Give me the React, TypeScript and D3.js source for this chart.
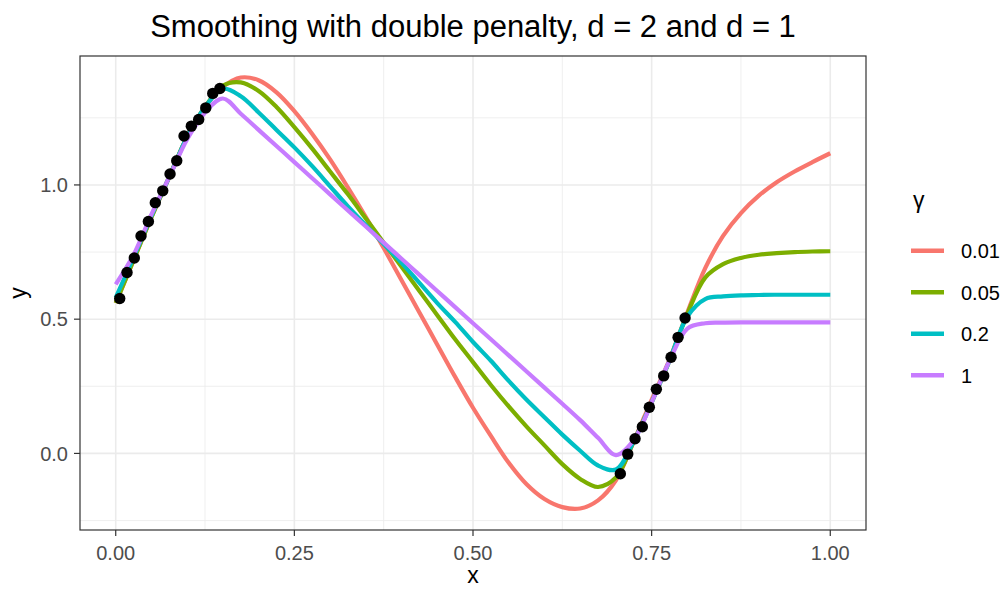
import React from "react";
import * as d3 from "d3";

// curve grid (shared by all four fits)
const xs = d3.range(0, 41).map((i) => i / 40);

const gammaLabels = ["0.01", "0.05", "0.2", "1"];
const gammaColors = ["#F8766D", "#7CAE00", "#00BFC4", "#C77CFF"];

const fit001 = [
  0.56, 0.72, 0.88, 1.03, 1.18, 1.29, 1.365, 1.4, 1.39, 1.345,
  1.275, 1.19, 1.095, 0.99, 0.88, 0.765, 0.645, 0.525, 0.405, 0.285,
  0.17, 0.065, -0.035, -0.115, -0.17, -0.2, -0.205, -0.175, -0.1, 0.045,
  0.2, 0.35, 0.525, 0.69, 0.81, 0.895, 0.96, 1.01, 1.05, 1.085, 1.118,
];
const fit005 = [
  0.56, 0.72, 0.88, 1.03, 1.18, 1.29, 1.37, 1.382, 1.35, 1.29,
  1.215, 1.135, 1.05, 0.965, 0.875, 0.785, 0.695, 0.605, 0.515, 0.425,
  0.34, 0.255, 0.175, 0.1, 0.03, -0.04, -0.095, -0.125, -0.09, 0.045,
  0.19, 0.345, 0.52, 0.655, 0.705, 0.728, 0.74, 0.746, 0.75, 0.752, 0.753,
];
const fit02 = [
  0.58, 0.73, 0.885, 1.03, 1.18, 1.29, 1.358, 1.33, 1.27, 1.205,
  1.14, 1.07, 0.995, 0.92, 0.85, 0.78, 0.71, 0.635, 0.56, 0.49,
  0.415, 0.345, 0.27, 0.2, 0.135, 0.07, 0.01, -0.045, -0.06, 0.045,
  0.19, 0.345, 0.51, 0.575, 0.585, 0.589, 0.59, 0.591, 0.591, 0.591, 0.591,
];
const fit1 = [
  0.63, 0.74, 0.89, 1.03, 1.17, 1.27, 1.322, 1.265, 1.205, 1.145,
  1.085, 1.025, 0.965, 0.905, 0.845, 0.785, 0.725, 0.665, 0.605, 0.545,
  0.485, 0.425, 0.365, 0.305, 0.245, 0.185, 0.124, 0.058, -0.006, 0.05,
  0.19, 0.345, 0.465, 0.485, 0.487, 0.488, 0.488, 0.488, 0.488, 0.488, 0.488,
];
const fits = [fit001, fit005, fit02, fit1];

// observed points
const obsX = [
  0.0056, 0.0158, 0.026, 0.0354, 0.0457, 0.0554, 0.0658, 0.076, 0.0854, 0.0956,
  0.1058, 0.1161, 0.126, 0.1358, 0.1457,
  0.7062, 0.7166, 0.7268, 0.737, 0.7468, 0.7566, 0.7669, 0.7772, 0.787, 0.7968,
];
const obsY = [
  0.577, 0.674, 0.728, 0.81, 0.864, 0.934, 0.978, 1.041, 1.09, 1.182,
  1.219, 1.244, 1.287, 1.341, 1.359,
  -0.0755, -0.0026, 0.0547, 0.0993, 0.1722, 0.2391, 0.2888, 0.358, 0.4323, 0.5045,
];

const xTicks = [0, 0.25, 0.5, 0.75, 1];
const xMinor = [0.125, 0.375, 0.625, 0.875];
const yTicks = [0, 0.5, 1];
const yMinor = [-0.25, 0.25, 0.75, 1.25];

const W = 1005;
const H = 589;
const panel = { left: 80, right: 866, top: 56, bottom: 530 };
const font = "'Liberation Sans', Arial, sans-serif";

export default function App() {
  const yMin = d3.min(fits.flat().concat(obsY)) as number;
  const yMax = d3.max(fits.flat().concat(obsY)) as number;
  const yPad = (yMax - yMin) * 0.05;

  const x = d3.scaleLinear().domain([-0.05, 1.05]).range([panel.left, panel.right]);
  const y = d3
    .scaleLinear()
    .domain([yMin - yPad, yMax + yPad])
    .range([panel.bottom, panel.top]);

  const line = d3
    .line<[number, number]>()
    .x((d) => x(d[0]))
    .y((d) => y(d[1]))
    .curve(d3.curveCatmullRom.alpha(0.5));

  return (
    <svg
      width={W}
      height={H}
      style={{ position: "absolute", left: 0, top: 0, background: "white" }}
      fontFamily={font}
    >
      <defs>
        <clipPath id="panel-clip">
          <rect
            x={panel.left}
            y={panel.top}
            width={panel.right - panel.left}
            height={panel.bottom - panel.top}
          />
        </clipPath>
      </defs>

      <rect
        x={panel.left}
        y={panel.top}
        width={panel.right - panel.left}
        height={panel.bottom - panel.top}
        fill="white"
      />

      {/* minor grid */}
      {xMinor.map((v) => (
        <line key={"xm" + v} x1={x(v)} x2={x(v)} y1={panel.top} y2={panel.bottom} stroke="#EBEBEB" strokeWidth={0.8} />
      ))}
      {yMinor.map((v) => (
        <line key={"ym" + v} x1={panel.left} x2={panel.right} y1={y(v)} y2={y(v)} stroke="#EBEBEB" strokeWidth={0.8} />
      ))}
      {/* major grid */}
      {xTicks.map((v) => (
        <line key={"xg" + v} x1={x(v)} x2={x(v)} y1={panel.top} y2={panel.bottom} stroke="#EBEBEB" strokeWidth={1.6} />
      ))}
      {yTicks.map((v) => (
        <line key={"yg" + v} x1={panel.left} x2={panel.right} y1={y(v)} y2={y(v)} stroke="#EBEBEB" strokeWidth={1.6} />
      ))}

      <g clipPath="url(#panel-clip)">
        {fits.map((f, i) => (
          <path
            key={gammaLabels[i]}
            d={line(xs.map((v, j) => [v, f[j]] as [number, number])) || ""}
            fill="none"
            stroke={gammaColors[i]}
            strokeWidth={4.2}
          />
        ))}
        {obsX.map((v, i) => (
          <circle key={"p" + i} cx={x(v)} cy={y(obsY[i])} r={5.7} fill="black" />
        ))}
      </g>

      <rect
        x={panel.left}
        y={panel.top}
        width={panel.right - panel.left}
        height={panel.bottom - panel.top}
        fill="none"
        stroke="#333333"
        strokeWidth={1.2}
      />

      {/* x axis */}
      {xTicks.map((v) => (
        <g key={"xt" + v}>
          <line x1={x(v)} x2={x(v)} y1={panel.bottom} y2={panel.bottom + 6} stroke="#333333" strokeWidth={1.2} />
          <text x={x(v)} y={panel.bottom + 30} textAnchor="middle" fontSize={20} fill="#4D4D4D">
            {d3.format(".2f")(v)}
          </text>
        </g>
      ))}
      {/* y axis */}
      {yTicks.map((v) => (
        <g key={"yt" + v}>
          <line x1={panel.left - 6} x2={panel.left} y1={y(v)} y2={y(v)} stroke="#333333" strokeWidth={1.2} />
          <text x={panel.left - 12} y={y(v) + 7.3} textAnchor="end" fontSize={20} fill="#4D4D4D">
            {d3.format(".1f")(v)}
          </text>
        </g>
      ))}

      <text x={(panel.left + panel.right) / 2} y={583} textAnchor="middle" fontSize={23} fill="black">
        x
      </text>
      <text
        transform={`translate(26, ${(panel.top + panel.bottom) / 2}) rotate(-90)`}
        textAnchor="middle"
        fontSize={23}
        fill="black"
      >
        y
      </text>

      <text x={(panel.left + panel.right) / 2} y={37} textAnchor="middle" fontSize={31} fill="black">
        Smoothing with double penalty, d = 2 and d = 1
      </text>

      {/* legend */}
      <text x={913} y={208} fontSize={23} fill="black">
        γ
      </text>
      {gammaLabels.map((lab, i) => (
        <g key={"lg" + lab} transform={`translate(0, ${250.7 + i * 41.5})`}>
          <line x1={911} x2={944} y1={0} y2={0} stroke={gammaColors[i]} strokeWidth={4.5} />
          <text x={961} y={7.5} fontSize={20} fill="black">
            {lab}
          </text>
        </g>
      ))}
    </svg>
  );
}
